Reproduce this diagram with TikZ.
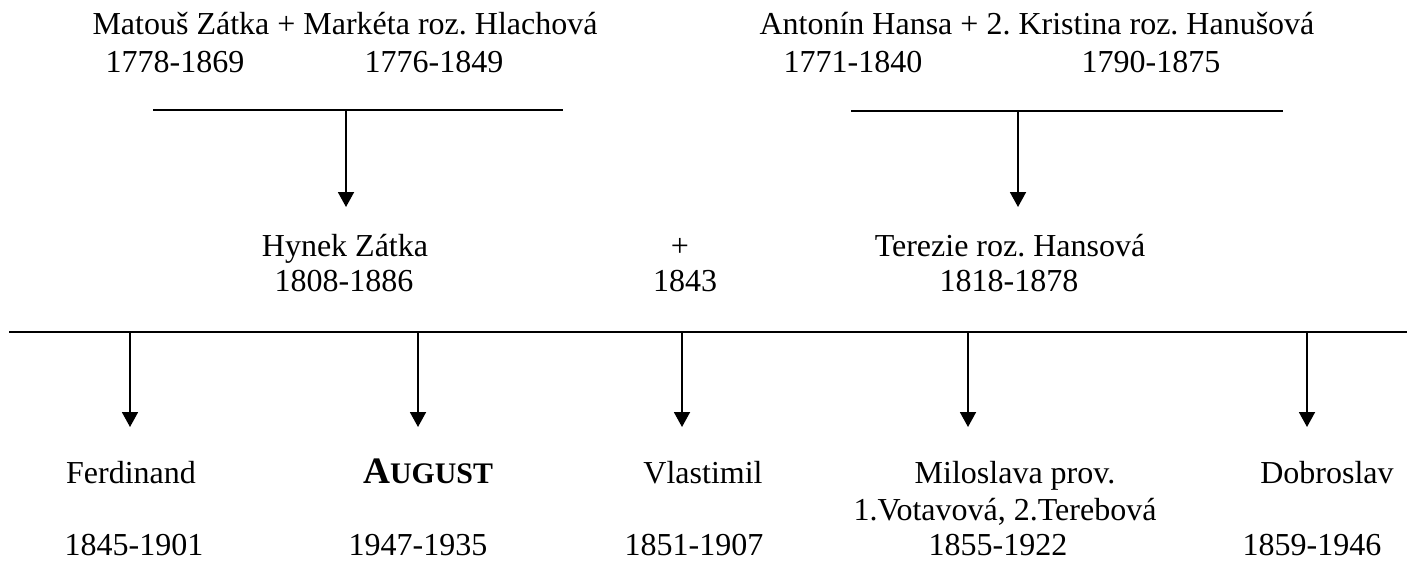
\documentclass[tikz,border=0pt]{standalone}
\usepackage{fontspec}
\setmainfont{Liberation Serif}
\usetikzlibrary{arrows.meta}
\begin{document}
\frenchspacing
\begin{tikzpicture}[x=0.75pt,y=-0.75pt,
  txt/.style={inner sep=0pt,anchor=base,font=\fontsize{24}{28}\selectfont},
  ln/.style={line width=1.4pt},
  arr/.style={line width=1.4pt,-{Triangle[length=11.25pt,width=12pt]}}]
\useasboundingbox (0,0) rectangle (1407,561);
% top left couple
\node[txt] (tl) at (345,34) {Matouš Zátka + Markéta roz. Hlachová};
\node[txt] (tld1) at (175,72) {1778-1869};
\node[txt] (tld2) at (434,72) {1776-1849};
\coordinate (l1) at (153,110);
\coordinate (l2) at (563,110);
\coordinate (lm) at (346,110);
\coordinate (lt) at (346,207);
\draw[ln] (l1) -- (l2);
\draw[arr] (lm) -- (lt);
% top right couple
\node[txt] (tr) at (1037,34) {Antonín Hansa + 2. Kristina roz. Hanušová};
\node[txt] (trd1) at (853,72) {1771-1840};
\node[txt] (trd2) at (1151,72) {1790-1875};
\coordinate (r1) at (851,111);
\coordinate (r2) at (1283,111);
\coordinate (rm) at (1018,111);
\coordinate (rt) at (1018,207);
\draw[ln] (r1) -- (r2);
\draw[arr] (rm) -- (rt);
% middle couple
\node[txt] (hy) at (345,256) {Hynek Zátka};
\node[txt] (hyd) at (344,291) {1808-1886};
\node[txt] (pl) at (680,256) {+};
\node[txt] (yr) at (685,291) {1843};
\node[txt] (te) at (1010,256) {Terezie roz. Hansová};
\node[txt] (ted) at (1009,291) {1818-1878};
% main line
\coordinate (m1) at (9,332);
\coordinate (m2) at (1407,332);
\draw[ln] (m1) -- (m2);
\foreach \x/\n in {130/a,418/b,682/c,968/d,1307/e}{
  \coordinate (s\n) at (\x,332);
  \coordinate (t\n) at (\x,427);
  \draw[arr] (s\n) -- (t\n);
}
% children
\node[txt] (c1) at (131,483) {Ferdinand};
\node[txt] (c1d) at (134,555) {1845-1901};
\node[txt] (c2) at (428,483) {\fontsize{28}{32}\selectfont\bfseries A{\fontsize{22.4}{26}\selectfont UGUST}};
\node[txt] (c2d) at (418,555) {1947-1935};
\node[txt] (c3) at (703,483) {Vlastimil};
\node[txt] (c3d) at (694,555) {1851-1907};
\node[txt] (c4) at (1015,483) {Miloslava prov.};
\node[txt] (c4b) at (1005,520) {1.Votavová, 2.Terebová};
\node[txt] (c4d) at (998,555) {1855-1922};
\node[txt] (c5) at (1327,483) {Dobroslav};
\node[txt] (c5d) at (1312,555) {1859-1946};
\end{tikzpicture}
\end{document}
